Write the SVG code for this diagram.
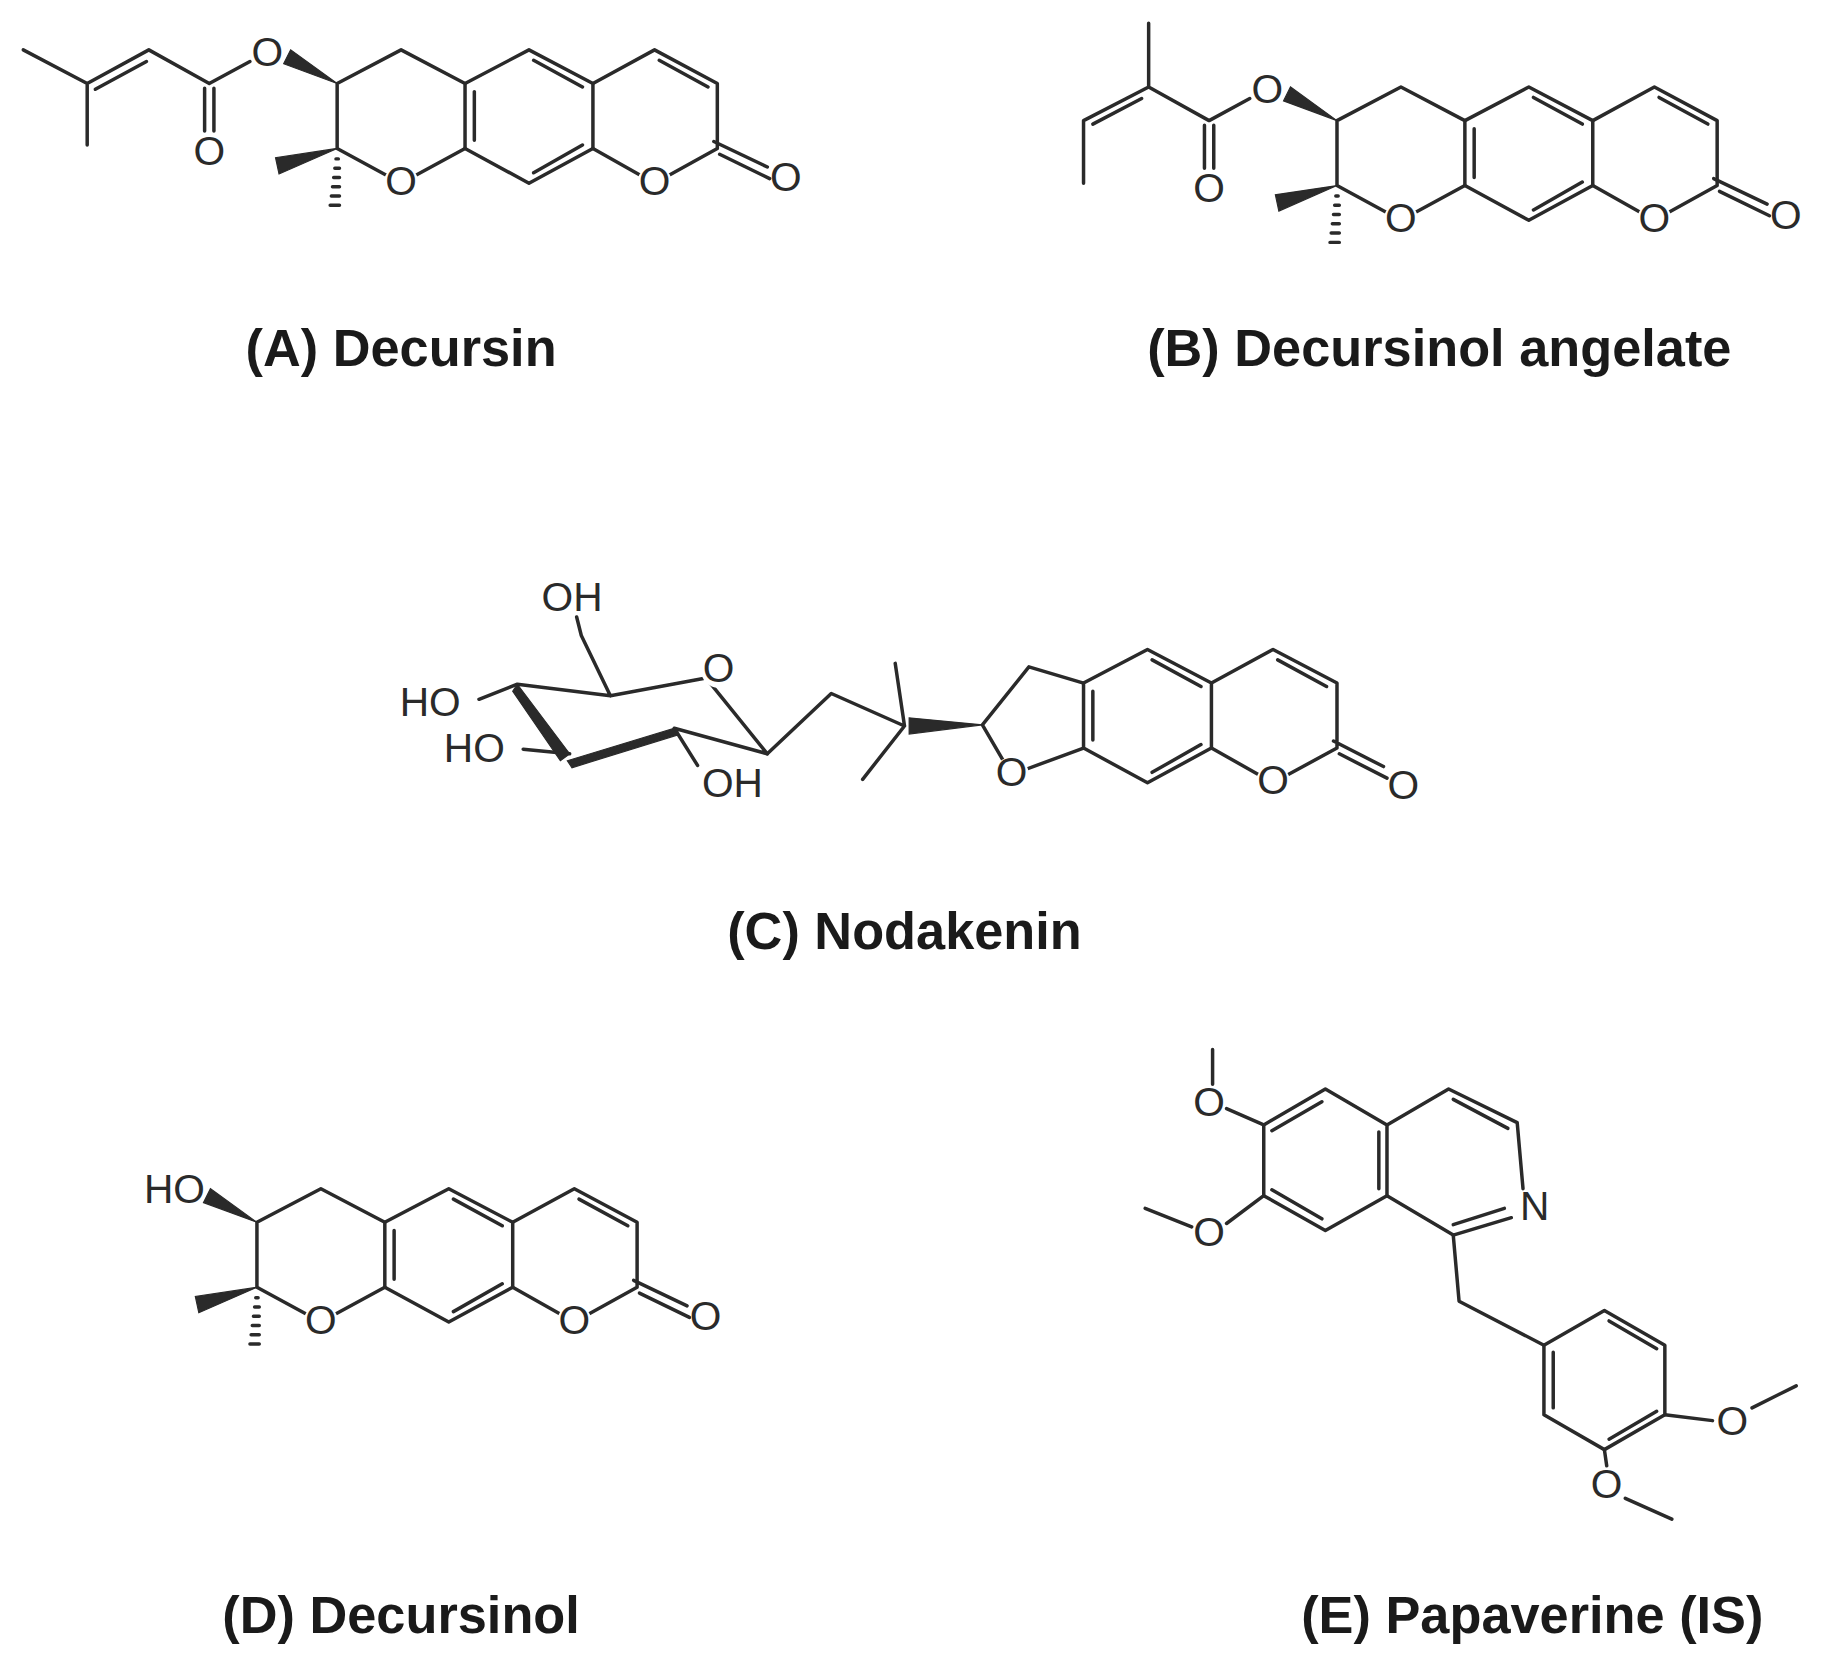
<svg xmlns="http://www.w3.org/2000/svg" xmlns:xlink="http://www.w3.org/1999/xlink" width="1823" height="1670" viewBox="0 0 1823 1670">
<style>
.b{stroke:#2a2a2a;stroke-width:3;fill:none;stroke-linecap:round;stroke-linejoin:round}
.w{fill:#2a2a2a;stroke:#2a2a2a;stroke-width:1}
.bk{fill:#fff;stroke:none}
.a{font-family:"Liberation Sans",Arial,sans-serif;font-size:35px;fill:#2a2a2a;text-anchor:middle;dominant-baseline:central}
.t{font-family:"Liberation Sans",Arial,sans-serif;font-size:45px;font-weight:bold;fill:#1a1a1a;text-anchor:middle}
</style>
<defs>
<g id="core">
<path class="b" d="M290,72 L345,43 L400,72 L400,128 L345,158 L290,128 Z"/>
<path class="b" d="M400,72 L455,43 L510,72 L510,128 L455,158 L400,128"/>
<path class="b" d="M408,79 L408,121 M459,52 L501,75 M501,125 L459,149"/>
<path class="b" d="M510,72 L563,43 L617,72 L617,128 L563,158 L510,128"/>
<path class="b" d="M567,52 L609,75"/>
<path class="b" d="M614,122 L660,144 M619,133 L662,154"/>
<polygon class="w" points="290,72 250,43 244,55"/>
<polygon class="w" points="290,128 237,136 240,150"/>
<path class="b" d="M289,137 l2,0 M288,145 l4,0 M287,153 l5,0 M286,161 l6,0 M285,169 l7,0 M284,177 l8,0"/>
<circle class="bk" cx="345" cy="158" r="15"/><text class="a" x="345" y="156">O</text>
<circle class="bk" cx="563" cy="158" r="15"/><text class="a" x="563" y="156">O</text>
<text class="a" x="676" y="153">O</text>
</g>
</defs>
<rect width="1823" height="1670" fill="#fff"/>
<g transform="scale(1.1626,1.1597)">
<g id="A">
<use xlink:href="#core"/>
<path class="b" d="M20,43 L75,72 L75,125 M75,72 L128,43 L180,72 L215,53 M82,77 L126,53 M176,76 L176,113 M184,76 L184,113"/>
<text class="a" x="230" y="45">O</text>
<text class="a" x="180" y="130">O</text>
<text class="t" x="345" y="316">(A) Decursin</text>
</g>
<g id="B">
<use xlink:href="#core" transform="translate(860,32)"/>
<path class="b" d="M988,20 L988,75 L1040,104 L1075,85 M988,75 L932,104 L932,158 M982,85 L940,107 M1036,108 L1036,145 M1044,108 L1044,145"/>
<text class="a" x="1090" y="77">O</text>
<text class="a" x="1040" y="162">O</text>
<text class="t" x="1238" y="316">(B) Decursinol angelate</text>
</g>
<g id="C">
<path class="b" d="M932,589 L987,560 L1042,589 L1042,645 L987,675 L932,645 Z M940,596 L940,638 M991,569 L1033,592 M1033,642 L991,666"/>
<path class="b" d="M1042,589 L1095,560 L1150,589 L1150,645 L1095,675 L1042,645 M1099,569 L1141,592 M1147,639 L1190,661 M1152,650 L1193,671"/>
<path class="b" d="M932,589 L885,575 L845,625 L870,668 L932,645"/>
<polygon class="w" points="845,625 782,619 782,633"/>
<path class="b" d="M770,572 L778,626 L742,672 M778,626 L715,598 L660,650"/>
<path class="b" d="M610,588 L660,650 L580,628 M605,585 L525,600 L445,590 M525,600 L500,548 L496,532 M445,590 L412,603 M490,650 L450,646 M580,628 L600,660"/>
<polygon class="w" points="445,590 490,650 482,656 441,596"/>
<polygon class="w" points="488,656 580,628 582,634 492,662"/>
<circle class="bk" cx="870" cy="668" r="15"/><text class="a" x="870" y="666">O</text>
<circle class="bk" cx="1095" cy="675" r="15"/><text class="a" x="1095" y="673">O</text>
<text class="a" x="1207" y="677">O</text>
<circle class="bk" cx="618" cy="578" r="15"/><text class="a" x="618" y="576">O</text>
<text class="a" x="492" y="515">OH</text>
<text class="a" x="370" y="605">HO</text>
<text class="a" x="408" y="645">HO</text>
<text class="a" x="630" y="675">OH</text>
<text class="t" x="778" y="818">(C) Nodakenin</text>
</g>
<g id="D">
<use xlink:href="#core" transform="translate(-69,982)"/>
<text class="a" x="150" y="1025">HO</text>
<text class="t" x="345" y="1408">(D) Decursinol</text>
</g>
<g id="E">
<path class="b" d="M1140,939 L1193,970 L1193,1031 L1140,1061 L1087,1031 L1087,970 Z M1186,976 L1186,1025 M1094,975 L1137,950 M1094,1026 L1137,1051"/>
<path class="b" d="M1193,970 L1246,939 L1305,968 L1310,1025 M1300,1050 L1250,1065 L1193,1031 M1250,948 L1297,973 M1250,1056 L1294,1042"/>
<path class="b" d="M1087,970 L1055,956 M1043,935 L1043,905 M1087,1031 L1055,1055 M1025,1058 L985,1042 M1250,1065 L1255,1122 L1328,1160"/>
<path class="b" d="M1328,1160 L1380,1130 L1432,1160 L1432,1220 L1380,1250 L1328,1220 Z M1336,1166 L1336,1214 M1384,1139 L1425,1163 M1425,1217 L1384,1241"/>
<path class="b" d="M1432,1220 L1473,1225 M1507,1214 L1545,1195 M1380,1250 L1382,1264 M1398,1292 L1438,1310"/>
<text class="a" x="1040" y="950">O</text>
<text class="a" x="1040" y="1062">O</text>
<text class="a" x="1320" y="1040">N</text>
<text class="a" x="1490" y="1225">O</text>
<text class="a" x="1382" y="1280">O</text>
<text class="t" x="1318" y="1408">(E) Papaverine (IS)</text>
</g>
</g>
</svg>
